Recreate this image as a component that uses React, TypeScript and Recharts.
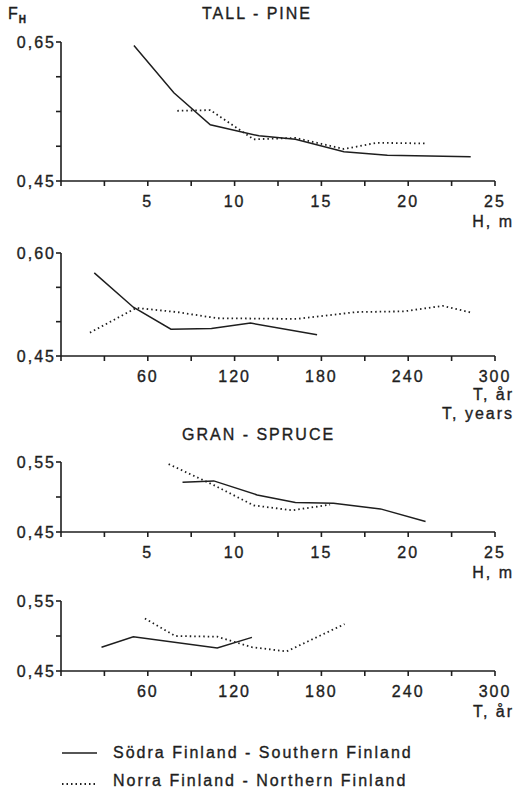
import React from "react";
import { LineChart, Line, XAxis, YAxis } from "recharts";

// Pine, form factor vs height (H, m)
const pineHSouth = [
  { x: 4.2, y: 0.645 },
  { x: 6.5, y: 0.577 },
  { x: 8.6, y: 0.531 },
  { x: 11.4, y: 0.515 },
  { x: 13.5, y: 0.51 },
  { x: 16.3, y: 0.492 },
  { x: 18.8, y: 0.487 },
  { x: 23.6, y: 0.485 },
];
const pineHNorth = [
  { x: 6.7, y: 0.551 },
  { x: 8.6, y: 0.552 },
  { x: 11.1, y: 0.51 },
  { x: 13.5, y: 0.512 },
  { x: 16.3, y: 0.496 },
  { x: 18.2, y: 0.505 },
  { x: 21.1, y: 0.504 },
];

// Pine, form factor vs age (T, years)
const pineTSouth = [
  { x: 23, y: 0.571 },
  { x: 50, y: 0.521 },
  { x: 76, y: 0.489 },
  { x: 104, y: 0.49 },
  { x: 131, y: 0.498 },
  { x: 177, y: 0.481 },
];
const pineTNorth = [
  { x: 20, y: 0.484 },
  { x: 52, y: 0.52 },
  { x: 80, y: 0.514 },
  { x: 108, y: 0.505 },
  { x: 163, y: 0.504 },
  { x: 204, y: 0.514 },
  { x: 237, y: 0.515 },
  { x: 264, y: 0.523 },
  { x: 284, y: 0.513 },
];

// Spruce, form factor vs height
const spruceHSouth = [
  { x: 7.0, y: 0.521 },
  { x: 8.8, y: 0.523 },
  { x: 11.3, y: 0.503 },
  { x: 13.5, y: 0.492 },
  { x: 15.7, y: 0.491 },
  { x: 18.4, y: 0.483 },
  { x: 21.0, y: 0.465 },
];
const spruceHNorth = [
  { x: 6.2, y: 0.547 },
  { x: 8.8, y: 0.517 },
  { x: 11.1, y: 0.488 },
  { x: 13.3, y: 0.481 },
  { x: 15.5, y: 0.489 },
];

// Spruce, form factor vs age
const spruceTSouth = [
  { x: 28, y: 0.484 },
  { x: 50, y: 0.499 },
  { x: 108, y: 0.483 },
  { x: 132, y: 0.498 },
];
const spruceTNorth = [
  { x: 58, y: 0.525 },
  { x: 79, y: 0.5 },
  { x: 108, y: 0.499 },
  { x: 132, y: 0.484 },
  { x: 156, y: 0.478 },
  { x: 196, y: 0.517 },
];

const hTicks = [0, 2.5, 5, 7.5, 10, 12.5, 15, 17.5, 20, 22.5, 25];
const hLabels = [5, 10, 15, 20, 25];
const tTicks = [0, 30, 60, 90, 120, 150, 180, 210, 240, 270, 300];
const tLabels = [60, 120, 180, 240, 300];

const ink = "#1e1e1e";
const font = "Liberation Sans, Arial, sans-serif";
const tickStyle = {
  fontSize: 16,
  fontFamily: font,
  fill: ink,
  letterSpacing: 2,
  stroke: ink,
  strokeWidth: 0.35,
};

const fmtY = (v: number) => v.toFixed(2).replace(".", ",");

const Panel = ({ top, marginTop, plotH, yMax, yTicks, isH, south, north }) => {
  const xTicks = isH ? hTicks : tTicks;
  const xLabels = isH ? hLabels : tLabels;
  return (
    <div style={{ position: "absolute", left: 0, top }}>
      <LineChart
        width={518}
        height={marginTop + plotH + 30}
        margin={{ top: marginTop, right: 23, bottom: 0, left: 0 }}
      >
        <XAxis
          type="number"
          dataKey="x"
          domain={[0, isH ? 25 : 300]}
          ticks={xTicks}
          tickFormatter={(v) => (xLabels.includes(v) ? String(v) : "")}
          tick={tickStyle}
          tickSize={5}
          tickMargin={10}
          height={30}
          stroke={ink}
          strokeWidth={1.6}
          allowDataOverflow
        />
        <YAxis
          type="number"
          dataKey="y"
          domain={[0.45, yMax]}
          ticks={yTicks}
          tickFormatter={(v) => (v === 0.45 || v === yMax ? fmtY(v) : "")}
          tick={tickStyle}
          tickSize={5}
          tickMargin={0}
          width={61}
          stroke={ink}
          strokeWidth={1.6}
          allowDataOverflow
        />
        <Line
          data={south}
          dataKey="y"
          type="linear"
          stroke={ink}
          strokeWidth={1.5}
          dot={false}
          isAnimationActive={false}
        />
        <Line
          data={north}
          dataKey="y"
          type="linear"
          stroke={ink}
          strokeWidth={1.8}
          strokeDasharray="1.5 3"
          dot={false}
          isAnimationActive={false}
        />
      </LineChart>
    </div>
  );
};

const txt = (left, top, s, extra = {}) => (
  <div
    style={{
      position: "absolute",
      left,
      top,
      fontFamily: font,
      fontSize: 16,
      letterSpacing: 2,
      color: ink,
      WebkitTextStroke: "0.35px #1e1e1e",
      whiteSpace: "nowrap",
      lineHeight: "14px",
      ...extra,
    }}
  >
    {s}
  </div>
);

export default function App() {
  return (
    <div
      style={{
        position: "absolute",
        left: 0,
        top: 0,
        width: 518,
        height: 793,
        background: "#fff",
        overflow: "hidden",
      }}
    >
      {/* F_H label */}
      <div style={{ position: "absolute", left: 8, top: 7, fontFamily: font, fontSize: 16, color: ink, lineHeight: "14px", WebkitTextStroke: "0.35px #1e1e1e" }}>
        F<span style={{ fontSize: 10, fontWeight: "bold", position: "relative", top: 4, marginLeft: 1 }}>H</span>
      </div>
      {txt(202, 7, "TALL - PINE")}
      <Panel top={0} marginTop={42} plotH={139} yMax={0.65} yTicks={[0.45, 0.5, 0.55, 0.6, 0.65]} isH south={pineHSouth} north={pineHNorth} />
      {txt(0, 215, "H, m", { width: 514, textAlign: "right" })}

      <Panel top={240} marginTop={13} plotH={103} yMax={0.6} yTicks={[0.45, 0.5, 0.55, 0.6]} isH={false} south={pineTSouth} north={pineTNorth} />
      {txt(0, 386, <>T, år<br />T, years</>, { width: 514, textAlign: "right", lineHeight: "18.5px" })}

      {txt(182, 428, "GRAN - SPRUCE")}
      <Panel top={450} marginTop={12} plotH={70} yMax={0.55} yTicks={[0.45, 0.5, 0.55]} isH south={spruceHSouth} north={spruceHNorth} />
      {txt(0, 566, "H, m", { width: 514, textAlign: "right" })}

      <Panel top={590} marginTop={11} plotH={70} yMax={0.55} yTicks={[0.45, 0.5, 0.55]} isH={false} south={spruceTSouth} north={spruceTNorth} />
      {txt(0, 705, "T, år", { width: 514, textAlign: "right" })}

      {/* legend */}
      <svg style={{ position: "absolute", left: 0, top: 740 }} width={110} height={53}>
        <line x1={62} x2={97} y1={13} y2={13} stroke={ink} strokeWidth={1.5} />
        <line x1={62} x2={97} y1={44} y2={44} stroke={ink} strokeWidth={1.8} strokeDasharray="1.5 3" />
      </svg>
      {txt(113, 746, "Södra Finland - Southern Finland")}
      {txt(113, 774, "Norra Finland - Northern Finland")}
    </div>
  );
}
